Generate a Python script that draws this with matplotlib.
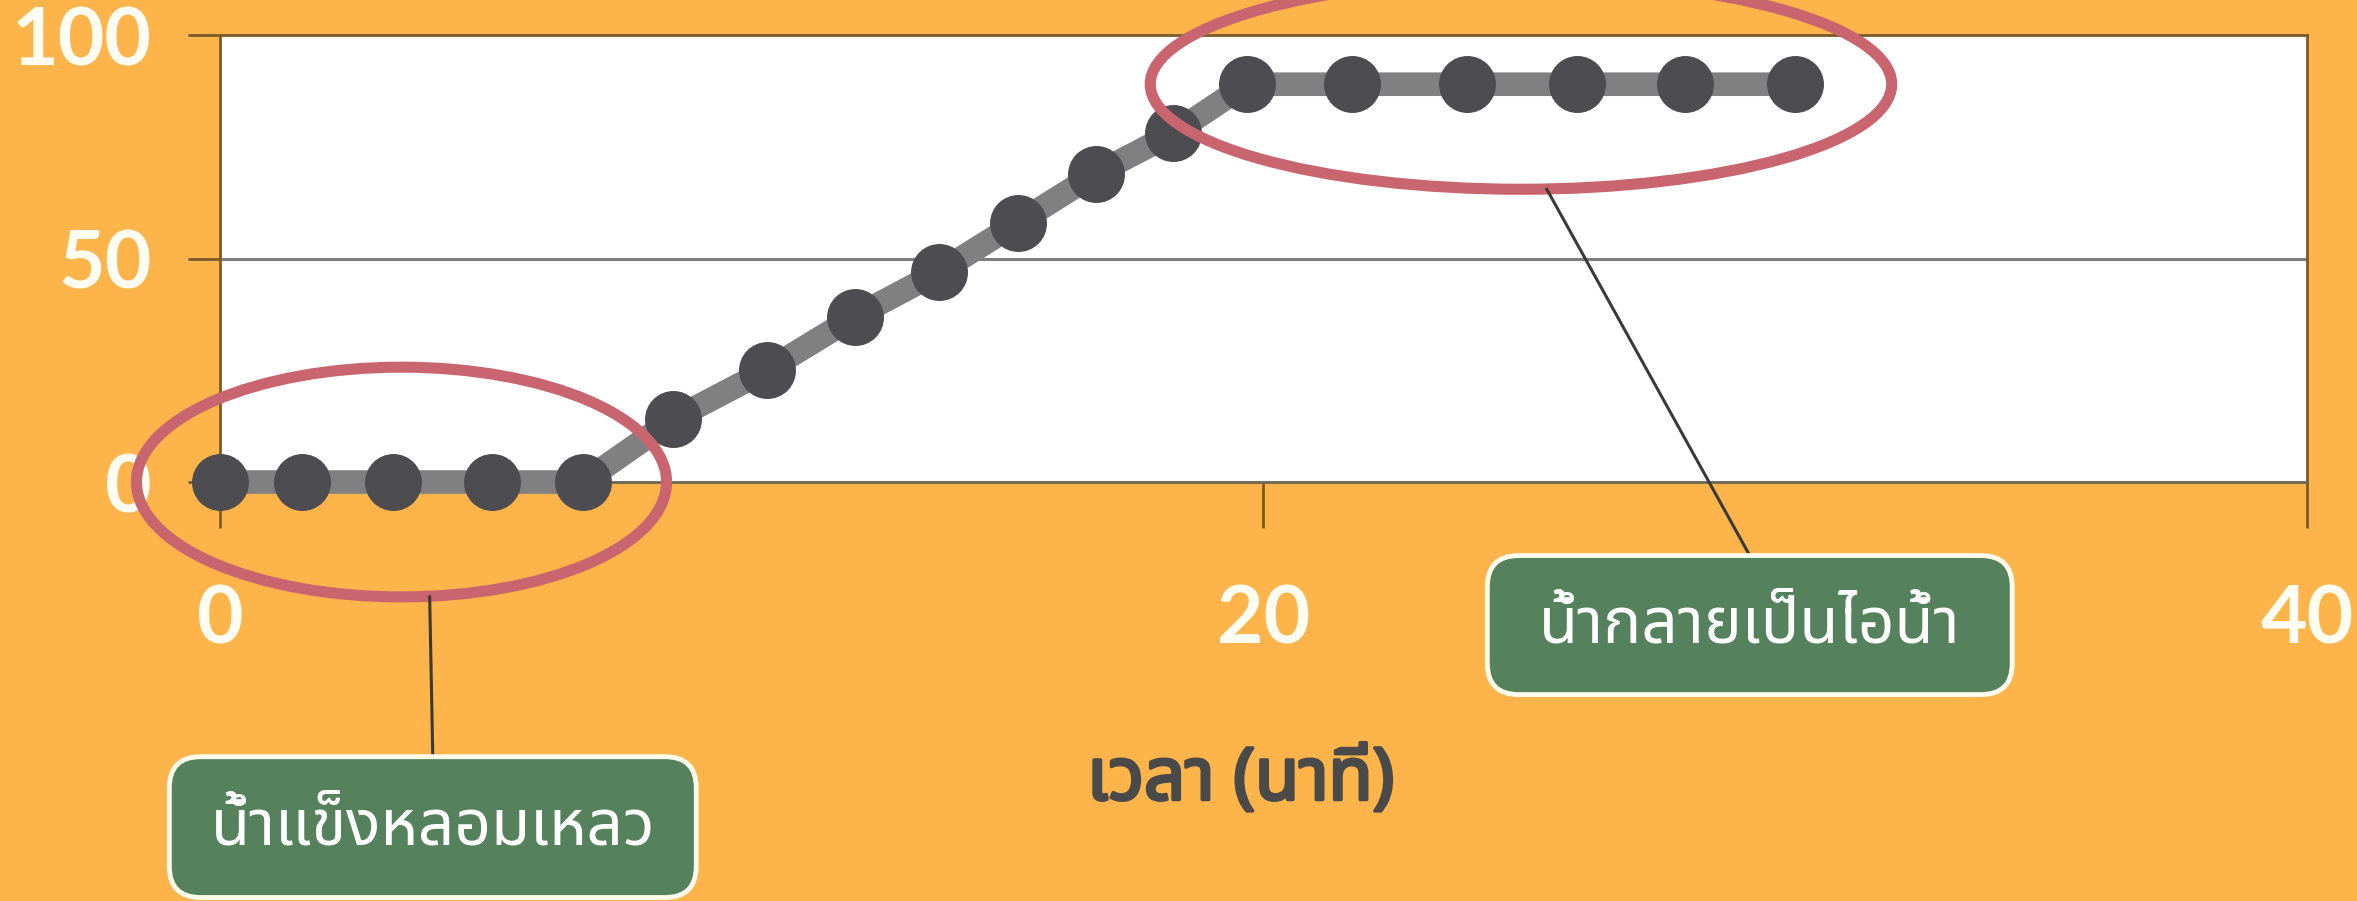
import matplotlib
matplotlib.use("Agg")
import matplotlib.pyplot as plt
import matplotlib.patheffects as pe
from matplotlib import font_manager
from matplotlib.ft2font import FT2Font
from matplotlib.patches import Ellipse, FancyBboxPatch

# heating curve of water: temperature vs time
time_min = [0, 1.57, 3.32, 5.21, 6.96, 8.68, 10.48, 12.17, 13.78, 15.29,
            16.79, 18.27, 19.68, 21.70, 23.90, 26.01, 28.08, 30.19]
temp_c = [0, 0, 0, 0, 0, 14, 25, 37, 47, 58, 69, 78, 89, 89, 89, 89, 89, 89]

x_ticks = [0, 20, 40]
y_ticks = [0, 50, 100]
x_label = "เวลา (นาที)"
melt_label = "น้ำแข็งหลอมเหลว"
boil_label = "น้ำกลายเป็นไอน้ำ"
melt_idx = (0, 4)
boil_idx = (12, 17)

BG = "#FCB44B"
LINE = "#808080"
DOT = "#4D4D51"
RING = "#C8656F"
BOX = "#55825C"
AXIS = "#7A5A26"


def thai_family():
    preferred = ["Noto Sans Thai", "Noto Sans Thai Looped", "Sarabun",
                 "Loma", "Garuda", "Kinnari", "Norasi", "Umpush", "Waree"]
    found = []
    for f in font_manager.fontManager.ttflist:
        try:
            if 0x0E01 in FT2Font(f.fname).get_charmap():
                found.append(f.name)
        except Exception:
            pass
    for name in preferred:
        if name in found:
            return name
    return found[0] if found else "DejaVu Sans"


THAI = [thai_family(), "DejaVu Sans"]

fig = plt.figure(figsize=(23.57, 9.01), dpi=100, facecolor=BG)
ax = fig.add_axes([0.0933, 0.465, 0.8855, 0.4961])
ax.set_facecolor("white")

ax.plot(time_min, temp_c, color=LINE, lw=17, zorder=3, clip_on=False,
        solid_capstyle="butt")
ax.plot(time_min, temp_c, ls="none", marker="o", ms=40, mfc=DOT, mec=DOT,
        zorder=4, clip_on=False)

ax.set_xlim(0, 40)
ax.set_ylim(0, 100)
ax.set_xticks(x_ticks)
ax.set_yticks(y_ticks)
ax.axhline(50, color="#7F7F7F", lw=2.2, zorder=1)

for side in ["top", "left", "right"]:
    ax.spines[side].set_color(AXIS)
    ax.spines[side].set_linewidth(2)
ax.spines["bottom"].set_color("#6E6650")
ax.spines["bottom"].set_linewidth(2)

ax.tick_params(axis="x", direction="out", length=33, width=2, color=AXIS,
               pad=40, labelsize=58, labelcolor="#FFFDF2")
ax.tick_params(axis="y", direction="out", length=23, width=2, color=AXIS,
               pad=26, labelsize=58, labelcolor="#FFFDF2")
for lab in ax.get_xticklabels() + ax.get_yticklabels():
    lab.set_family("Lato")
    lab.set_fontweight("bold")

ax.set_xlabel(x_label, family=THAI, fontsize=52, color="#4A4A4A",
              path_effects=[pe.withStroke(linewidth=2.5, foreground="#4A4A4A")])
ax.xaxis.set_label_coords(0.489, -0.585)

# rings around the two flat stretches
rings = []
for (i0, i1), pad_x, half_h in [(melt_idx, 3.2, 25.7), (boil_idx, 3.7, 23.5)]:
    x0, x1 = time_min[i0], time_min[i1]
    cx, cy = (x0 + x1) / 2, temp_c[i0]
    ring = Ellipse((cx, cy), x1 - x0 + pad_x, 2 * half_h, fill=False,
                   ec=RING, lw=8, zorder=6, clip_on=False)
    ax.add_patch(ring)
    rings.append((cx, cy - half_h))

# y data units per x data unit on screen, so box corners stay round
aspect = (100 / (0.4961 * 901)) / (40 / (0.8855 * 2357))


def callout(text, center, size, start):
    cx, cy = center
    w, h = size
    box = FancyBboxPatch((cx - w / 2, cy - h / 2), w, h,
                         boxstyle="round,pad=0,rounding_size=0.6",
                         mutation_aspect=aspect, fc=BOX, ec="#FFFCEB", lw=3.5,
                         zorder=8, clip_on=False)
    ax.add_patch(box)
    ax.plot([start[0], cx], [start[1], cy + h / 2], color="#3A3A3A", lw=2.2,
            zorder=7, clip_on=False)
    ax.text(cx, cy, text, ha="center", va="center", fontsize=46,
            color="#FFFFFF", family=THAI, zorder=9, clip_on=False)


callout(melt_label, (4.08, -77.2), (10.1, 31.5), (4.02, rings[0][1]))
callout(boil_label, (29.32, -32.0), (10.06, 31.1), (25.43, rings[1][1]))

fig.savefig("out.png", dpi=100, facecolor=BG)
